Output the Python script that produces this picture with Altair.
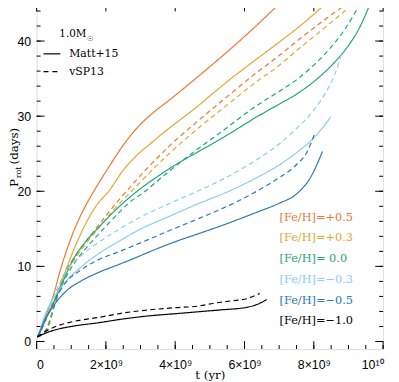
import altair as alt
import pandas as pd

# time in units of 1e9 yr, P_rot in days
feh_p05_matt_t = [0.02, 0.1, 0.23, 0.46, 0.71, 1.03, 1.45, 1.65, 2.08, 2.51, 2.93, 3.4, 3.79, 4.64, 5.78, 6.4, 7.01]
feh_p05_matt_p = [0.6, 1.4, 3.0, 5.8, 9.9, 14.2, 18.4, 20.0, 23.2, 26.2, 28.6, 30.6, 32.0, 35.2, 39.7, 42.3, 45.0]
feh_p05_vsp_t = [0.02, 0.15, 0.3, 0.4, 0.5, 0.65, 0.85, 1.1, 1.4, 1.79, 2.2, 2.65, 3.2, 3.8, 4.64, 5.5, 6.35, 6.87, 7.6, 8.3, 8.97]
feh_p05_vsp_p = [0.6, 0.9, 1.8, 3.2, 5.0, 7.3, 9.5, 11.3, 13.2, 15.5, 17.9, 20.3, 23.1, 25.9, 29.3, 32.6, 35.8, 37.6, 40.3, 42.8, 45.0]

feh_p03_matt_t = [0.02, 0.1, 0.25, 0.56, 0.85, 1.22, 1.74, 2.08, 2.5, 2.85, 3.3, 3.69, 4.64, 5.5, 6.35, 6.87, 7.6, 8.35]
feh_p03_matt_p = [0.6, 1.3, 2.9, 5.8, 9.6, 13.8, 18.2, 20.0, 22.8, 24.6, 26.4, 27.9, 31.3, 34.6, 37.6, 39.4, 42.0, 45.0]
feh_p03_vsp_t = [0.02, 0.15, 0.3, 0.4, 0.5, 0.65, 0.85, 1.1, 1.4, 1.79, 2.2, 2.74, 3.2, 3.8, 4.64, 5.5, 6.35, 6.87, 7.6, 8.4, 9.15]
feh_p03_vsp_p = [0.6, 0.9, 1.8, 3.1, 4.9, 7.1, 9.3, 11.0, 12.9, 15.1, 17.4, 20.0, 22.2, 24.9, 28.3, 31.5, 34.6, 36.3, 39.1, 42.1, 45.0]

feh_000_matt_t = [0.02, 0.1, 0.2, 0.42, 0.74, 1.03, 1.4, 1.79, 2.3, 2.9, 3.5, 4.07, 4.64, 5.4, 6.35, 7.0, 7.49, 8.0, 8.5, 9.0, 9.3, 9.63]
feh_000_matt_p = [0.6, 1.2, 2.3, 4.5, 7.8, 10.7, 13.2, 15.2, 17.6, 20.0, 22.0, 23.7, 25.2, 27.2, 29.9, 31.6, 32.9, 34.6, 36.7, 39.4, 41.6, 45.0]
feh_000_vsp_t = [0.02, 0.15, 0.3, 0.4, 0.5, 0.65, 0.85, 1.1, 1.4, 1.79, 2.3, 2.65, 3.13, 3.7, 4.64, 5.21, 6.35, 7.0, 7.49, 8.0, 8.5, 8.9, 9.34]
feh_000_vsp_p = [0.6, 0.9, 1.7, 2.9, 4.5, 6.6, 8.6, 10.5, 12.3, 14.3, 16.8, 18.4, 20.0, 22.2, 25.6, 27.5, 31.4, 33.3, 34.8, 36.8, 39.2, 41.6, 45.0]

feh_m03_matt_t = [0.02, 0.1, 0.2, 0.45, 0.85, 1.3, 1.79, 2.4, 2.93, 3.8, 4.64, 5.5, 6.35, 7.0, 7.49, 8.0, 8.49]
feh_m03_matt_p = [0.6, 1.5, 3.0, 5.5, 8.0, 10.0, 11.7, 13.4, 14.8, 16.6, 18.3, 19.9, 21.8, 23.5, 25.1, 27.1, 29.9]
feh_m03_vsp_t = [0.02, 0.1, 0.25, 0.5, 0.85, 1.3, 1.79, 2.4, 2.93, 3.8, 4.64, 5.5, 6.35, 7.0, 7.49, 8.0, 8.3, 8.6, 8.83]
feh_m03_vsp_p = [0.6, 1.2, 2.6, 6.0, 9.3, 11.5, 13.2, 15.0, 16.4, 18.3, 20.0, 21.9, 24.2, 26.3, 28.3, 30.8, 32.8, 35.5, 38.7]

feh_m05_matt_t = [0.02, 0.1, 0.2, 0.45, 0.85, 1.3, 1.79, 2.4, 2.93, 3.5, 4.07, 4.64, 5.5, 6.35, 7.0, 7.49, 7.9, 8.25]
feh_m05_matt_p = [0.6, 1.4, 2.5, 4.5, 6.7, 8.1, 9.2, 10.3, 11.3, 12.4, 13.4, 14.3, 15.7, 17.2, 18.4, 19.6, 21.8, 25.3]
feh_m05_vsp_t = [0.02, 0.1, 0.25, 0.5, 0.85, 1.3, 1.79, 2.4, 2.93, 3.8, 4.64, 5.5, 6.35, 7.0, 7.49, 7.8, 8.01]
feh_m05_vsp_p = [0.6, 1.2, 2.8, 5.3, 7.9, 9.6, 10.9, 12.0, 13.0, 14.7, 16.3, 18.0, 20.0, 21.8, 23.5, 25.2, 27.5]

feh_m10_matt_t = [0.02, 0.2, 0.5, 1.0, 1.79, 2.5, 3.22, 4.0, 4.64, 5.3, 6.07, 6.4, 6.64]
feh_m10_matt_p = [0.6, 1.0, 1.5, 2.0, 2.5, 3.0, 3.4, 3.7, 3.95, 4.2, 4.55, 5.0, 5.6]
feh_m10_vsp_t = [0.02, 0.2, 0.5, 1.0, 1.79, 2.5, 3.22, 4.0, 4.64, 5.12, 5.6, 6.07, 6.44]
feh_m10_vsp_p = [0.6, 1.2, 1.9, 2.6, 3.2, 3.8, 4.2, 4.5, 4.7, 5.1, 5.4, 5.7, 6.4]

feh_labels = ["+0.5", "+0.3", "0.0", "-0.3", "-0.5", "-1.0"]
feh_colors = ["#EE7733", "#DDAA33", "#1FA57A", "#8CCDEE", "#2B78B2", "#000000"]
feh_texts = ["[Fe/H]=+0.5", "[Fe/H]=+0.3", "[Fe/H]= 0.0", "[Fe/H]=\u22120.3", "[Fe/H]=\u22120.5", "[Fe/H]=\u22121.0"]
models = ["Matt+15", "vSP13"]

x_major = [0, 2, 4, 6, 8, 10]
x_minor = [i * 0.5 for i in range(21)]
y_major = [0, 10, 20, 30, 40]
y_minor = [i * 2 for i in range(23)]

series = [
    ("+0.5", "Matt+15", feh_p05_matt_t, feh_p05_matt_p),
    ("+0.5", "vSP13", feh_p05_vsp_t, feh_p05_vsp_p),
    ("+0.3", "Matt+15", feh_p03_matt_t, feh_p03_matt_p),
    ("+0.3", "vSP13", feh_p03_vsp_t, feh_p03_vsp_p),
    ("0.0", "Matt+15", feh_000_matt_t, feh_000_matt_p),
    ("0.0", "vSP13", feh_000_vsp_t, feh_000_vsp_p),
    ("-0.3", "Matt+15", feh_m03_matt_t, feh_m03_matt_p),
    ("-0.3", "vSP13", feh_m03_vsp_t, feh_m03_vsp_p),
    ("-0.5", "Matt+15", feh_m05_matt_t, feh_m05_matt_p),
    ("-0.5", "vSP13", feh_m05_vsp_t, feh_m05_vsp_p),
    ("-1.0", "Matt+15", feh_m10_matt_t, feh_m10_matt_p),
    ("-1.0", "vSP13", feh_m10_vsp_t, feh_m10_vsp_p),
]
rows = []
for feh, model, ts, ps in series:
    for i, (t, p) in enumerate(zip(ts, ps)):
        rows.append({"t": t, "P": p, "feh": feh, "model": model, "key": feh + model, "i": i})
df = pd.DataFrame(rows)

W, H = 351, 350
xs = alt.Scale(domain=[0, 10], nice=False, zero=False)
ys = alt.Scale(domain=[-1, 45], nice=False, zero=False)
SERIF = "DejaVu Serif"
SANS = "Liberation Sans"

lines = alt.Chart(df).mark_line(strokeWidth=1.2, clip=True, interpolate="monotone").encode(
    x=alt.X("t:Q", scale=xs, title="t (yr)",
            axis=alt.Axis(values=x_major, ticks=False, domain=False, grid=False,
                          labelFont=SANS, labelFontSize=12.5, labelColor="black",
                          labelPadding=10, titleFont=SERIF, titleFontSize=12,
                          titleFontWeight="normal", titleColor="black", titlePadding=-2,
                          labelExpr="datum.value == 0 ? '0' : (datum.value == 10 ? '10\u00b9\u2070' : datum.value + '\u00d710\u2079')")),
    y=alt.Y("P:Q", scale=ys, title=None,
            axis=alt.Axis(values=y_major, ticks=False, domain=False, grid=False,
                          labelFont=SANS, labelFontSize=12.5, labelColor="black",
                          labelPadding=6)),
    color=alt.Color("feh:N", scale=alt.Scale(domain=feh_labels, range=feh_colors), legend=None),
    strokeDash=alt.StrokeDash("model:N", scale=alt.Scale(domain=models, range=[[1, 0], [5, 3.5]]), legend=None),
    detail="key:N",
    order="i:Q",
)

xmaj = pd.DataFrame({"t": x_major})
xmin = pd.DataFrame({"t": x_minor})
ymaj = pd.DataFrame({"P": y_major})
ymin = pd.DataFrame({"P": y_minor})

def xticks(d, L):
    b = alt.Chart(d).mark_rule(color="black", strokeWidth=1).encode(
        x=alt.X("t:Q", scale=xs), y=alt.value(H), y2=alt.value(H - L))
    t = alt.Chart(d).mark_rule(color="black", strokeWidth=1).encode(
        x=alt.X("t:Q", scale=xs), y=alt.value(0), y2=alt.value(L))
    return b + t

def yticks(d, L):
    l = alt.Chart(d).mark_rule(color="black", strokeWidth=1).encode(
        y=alt.Y("P:Q", scale=ys), x=alt.value(0), x2=alt.value(L))
    r = alt.Chart(d).mark_rule(color="black", strokeWidth=1).encode(
        y=alt.Y("P:Q", scale=ys), x=alt.value(W), x2=alt.value(W - L))
    return l + r

ticks = xticks(xmin, 4) + xticks(xmaj, 8) + yticks(ymin, 4) + yticks(ymaj, 8)

# Fe/H labels
lab_df = pd.DataFrame({"label": feh_texts, "feh": feh_labels, "ypos": [217, 238, 259, 280, 301, 322]})
labels = alt.Chart(lab_df).mark_text(align="left", baseline="middle", font=SERIF, fontSize=11.5).encode(
    x=alt.value(246), y=alt.Y("ypos:Q", scale=None), text="label:N",
    color=alt.Color("feh:N", scale=alt.Scale(domain=feh_labels, range=feh_colors), legend=None))

def txt(s, x, y, size=11, font=SERIF, angle=0, align="left", baseline="middle"):
    return alt.Chart(pd.DataFrame({"s": [s]})).mark_text(
        align=align, baseline=baseline, font=font, fontSize=size, angle=angle, color="black"
    ).encode(x=alt.value(x), y=alt.value(y), text="s:N")

annot = (
    txt("1.0M", 23, 31, 10.5)
    + txt("\u2609", 51, 36, 7, font="DejaVu Sans")
    + txt("Matt+15", 33, 51, 11)
    + txt("vSP13", 33, 69, 11)
    + txt("P", -19, 186, 12, font=SERIF, angle=270, baseline="alphabetic")
    + txt("rot", -16, 177, 8, font=SERIF, angle=270, baseline="alphabetic")
    + txt("(days)", -19, 163, 12, font=SERIF, angle=270, baseline="alphabetic")
)
sample_solid = alt.Chart(pd.DataFrame({"a": [0]})).mark_rule(color="black", strokeWidth=1.2).encode(
    x=alt.value(7), x2=alt.value(24), y=alt.value(51))
sample_dash = alt.Chart(pd.DataFrame({"a": [0]})).mark_rule(color="black", strokeWidth=1.2, strokeDash=[5, 4]).encode(
    x=alt.value(7), x2=alt.value(24), y=alt.value(69))

chart = alt.layer(lines, ticks, labels, annot, sample_solid, sample_dash).properties(
    width=W, height=H,
    autosize=alt.AutoSizeParams(type="none"),
    padding={"left": 29, "top": -7, "right": 8, "bottom": 32},
).configure_view(stroke="black", strokeWidth=1).configure(background="white")

chart.save("out.html", embed_options={"renderer": "svg", "actions": False})
